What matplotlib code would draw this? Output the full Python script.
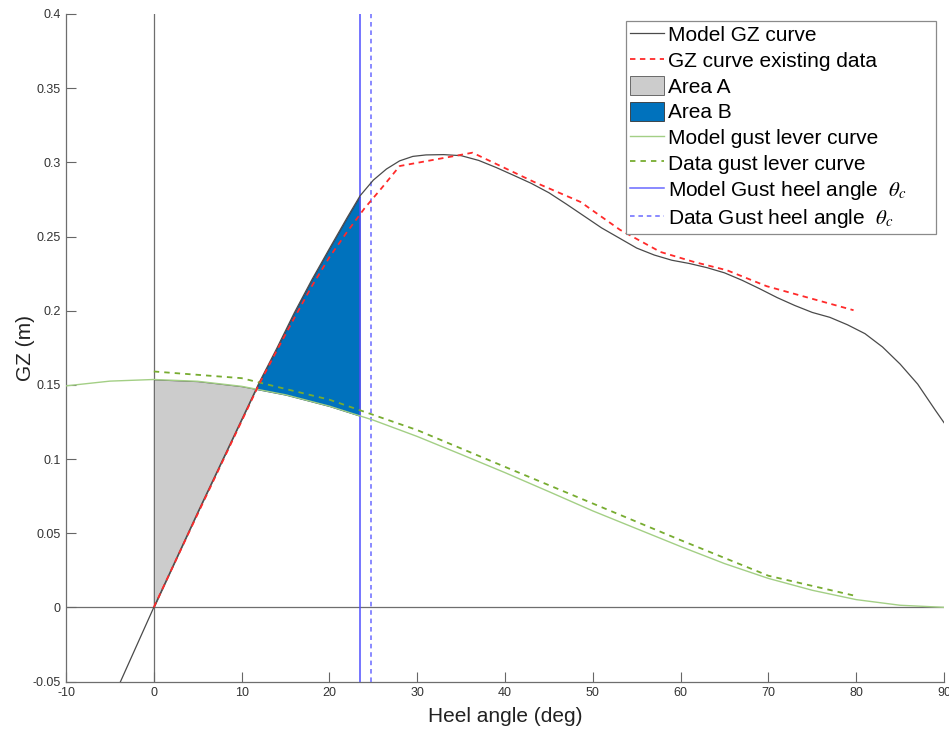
import numpy as np
import matplotlib
matplotlib.use("Agg")
import matplotlib.pyplot as plt
from matplotlib.lines import Line2D
from matplotlib.patches import Patch
from matplotlib.ticker import FuncFormatter

plt.rcParams["font.family"] = ["Liberation Sans", "DejaVu Sans"]
plt.rcParams["mathtext.fontset"] = "stix"
plt.rcParams["axes.unicode_minus"] = False

# Model righting lever (GZ) curve, heel angle in degrees
gz_model_x = [-5, 0, 5, 10, 12, 14, 16, 18, 20, 22, 23.5, 25, 26.5, 28, 29.5, 31,
              33, 35, 37, 39, 41, 43, 45, 47, 49, 51, 53, 55, 57, 59, 61, 63, 65,
              67, 69, 71, 73, 75, 77, 79, 81, 83, 85, 87, 89, 90]
gz_model_y = [-0.066, 0.0, 0.064, 0.1265, 0.1515, 0.1745, 0.1985, 0.2208, 0.2418,
              0.2625, 0.2775, 0.288, 0.2955, 0.301, 0.304, 0.305, 0.3052, 0.3045,
              0.3013, 0.2965, 0.2912, 0.2858, 0.2795, 0.2718, 0.2638, 0.2558, 0.249,
              0.2422, 0.2375, 0.234, 0.2318, 0.229, 0.2255, 0.2205, 0.2148, 0.2088,
              0.2035, 0.1988, 0.1955, 0.1905, 0.1845, 0.1755, 0.164, 0.1505, 0.133,
              0.1245]

# GZ curve from existing stability data
gz_data_x = [0, 4, 8, 12, 14, 16, 18, 20, 22, 24, 26, 28, 36.3, 43.3, 48.6, 53.1,
             57.7, 61.5, 65.3, 69.8, 79.7]
gz_data_y = [0.0, 0.0505, 0.1005, 0.1505, 0.173, 0.195, 0.2165, 0.236, 0.253,
             0.269, 0.283, 0.2975, 0.3065, 0.2868, 0.2733, 0.2545, 0.2396, 0.2329,
             0.2272, 0.2165, 0.2003]

# Gust heeling lever curves
lever_model_x = [-10, -5, 0, 5, 10, 15, 20, 25, 30, 35, 40, 45, 50, 55, 60, 65,
                 70, 75, 80, 85, 90]
lever_model_y = [0.1493, 0.1525, 0.1536, 0.1524, 0.149, 0.1433, 0.1356, 0.1262,
                 0.1152, 0.1031, 0.0908, 0.078, 0.065, 0.053, 0.041, 0.0295,
                 0.0195, 0.0115, 0.0052, 0.0014, 0.0]
lever_data_x = [0, 10, 20, 30, 40, 50, 60, 70, 80]
lever_data_y = [0.159, 0.1545, 0.140, 0.1195, 0.0947, 0.070, 0.0453, 0.0213, 0.0076]

# Gust heel angles
theta_c_model = 23.44
theta_c_data = 24.74

fig = plt.figure(figsize=(9.49, 7.31), dpi=100)
ax = fig.add_axes([66 / 949, 1 - 681.5 / 731, (944 - 66) / 949, (681.5 - 14) / 731])

# Areas between the GZ curve and the gust lever up to the gust heel angle
xs = np.linspace(0, theta_c_model, 600)
gz_i = np.interp(xs, gz_model_x, gz_model_y)
lev_i = np.interp(xs, lever_model_x, lever_model_y)
ax.fill_between(xs, gz_i, lev_i, where=lev_i >= gz_i, interpolate=True,
                facecolor="#cccccc", edgecolor="#555555", linewidth=0.6, zorder=2)
ax.fill_between(xs, gz_i, lev_i, where=gz_i >= lev_i, interpolate=True,
                facecolor="#0072bd", edgecolor="#1a3d6e", linewidth=0.6, zorder=2)

# Reference axes through the origin
ax.axhline(0, color="#6e6e6e", lw=0.9, zorder=1)
ax.axvline(0, color="#6e6e6e", lw=0.9, zorder=1)

ax.plot(gz_model_x, gz_model_y, color="#4a4a4a", lw=0.9, zorder=4)
ax.plot(gz_data_x, gz_data_y, color="#ff2a2a", lw=1.3, ls=(0, (3, 2.5)), zorder=5)
ax.plot(lever_model_x, lever_model_y, color="#a3cf85", lw=1.0, zorder=4)
ax.plot(lever_data_x, lever_data_y, color="#77ac30", lw=1.3, ls=(0, (3, 2.8)), zorder=4)
ax.axvline(theta_c_model, color="#5050ff", lw=1.1, zorder=3)
ax.axvline(theta_c_data, color="#6a6aff", lw=1.1, ls=(0, (3, 2.5)), zorder=3)

ax.set_xlim(-10, 90)
ax.set_ylim(-0.05, 0.4)
ax.set_xticks(np.arange(-10, 91, 10))
ax.set_yticks(np.round(np.arange(-0.05, 0.401, 0.05), 2))
ax.yaxis.set_major_formatter(FuncFormatter(lambda v, p: f"{v:g}"))
ax.xaxis.set_major_formatter(FuncFormatter(lambda v, p: f"{v:g}"))
ax.tick_params(direction="in", length=7, width=0.8, color="#666666",
               labelcolor="#333333", labelsize=9, pad=4)
for side in ("top", "right"):
    ax.spines[side].set_visible(False)
for side in ("left", "bottom"):
    ax.spines[side].set_color("#6e6e6e")
    ax.spines[side].set_linewidth(0.9)

ax.set_xlabel("Heel angle (deg)", fontsize=15, color="#222222", labelpad=6)
ax.set_ylabel("GZ (m)", fontsize=15, color="#222222", labelpad=-2)

handles = [
    Line2D([], [], color="#4a4a4a", lw=0.9),
    Line2D([], [], color="#ff2a2a", lw=1.3, ls=(0, (3, 2.5))),
    Patch(facecolor="#cccccc", edgecolor="#555555", linewidth=0.6),
    Patch(facecolor="#0072bd", edgecolor="#333333", linewidth=0.6),
    Line2D([], [], color="#a3cf85", lw=1.0),
    Line2D([], [], color="#77ac30", lw=1.3, ls=(0, (3, 2.8))),
    Line2D([], [], color="#6a6aff", lw=1.1),
    Line2D([], [], color="#6a6aff", lw=1.1, ls=(0, (3, 2.5))),
]
labels = [
    "Model GZ curve",
    "GZ curve existing data",
    "Area A",
    "Area B",
    "Model gust lever curve",
    "Data gust lever curve",
    "Model Gust heel angle  $\\theta_c$",
    "Data Gust heel angle  $\\theta_c$",
]
leg_left, leg_right, leg_top = 626 / 949, 936 / 949, 1 - 20.7 / 731
leg = ax.legend(handles, labels, loc="upper left", mode="expand",
                bbox_to_anchor=(leg_left, leg_top - 0.3, leg_right - leg_left, 0.3),
                bbox_transform=fig.transFigure, borderaxespad=0,
                fontsize=15, frameon=True, fancybox=False, framealpha=1,
                edgecolor="#8a8a8a", handlelength=1.6, handleheight=1.0,
                handletextpad=0.2, labelspacing=0.25, borderpad=0.2)
leg.get_frame().set_linewidth(0.9)

fig.savefig("out.png", dpi=100)
